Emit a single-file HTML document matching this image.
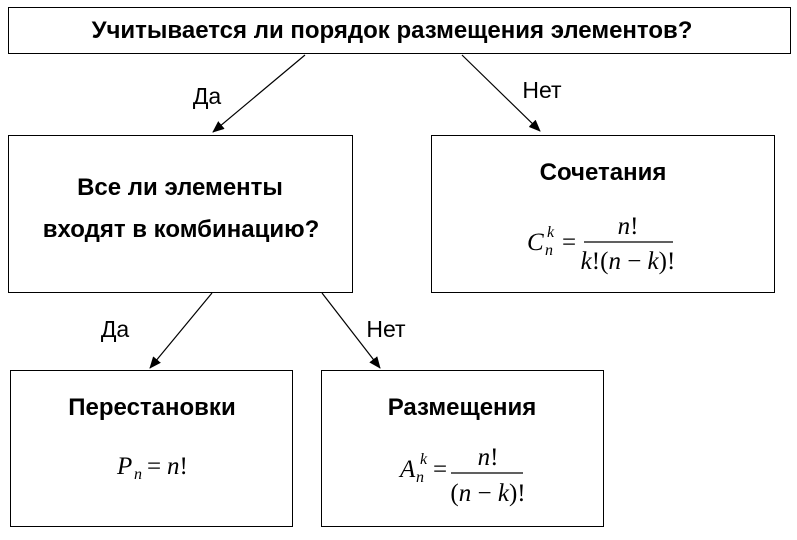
<!DOCTYPE html>
<html><head><meta charset="utf-8"><style>
html,body{margin:0;padding:0;background:#fff;}
svg{display:block;}
.t{font-family:"Liberation Sans",Arial,sans-serif;font-weight:bold;font-size:24px;fill:#000;}
.l{font-family:"Liberation Sans",Arial,sans-serif;font-size:23px;fill:#000;}
.m{font-family:"Liberation Serif","Times New Roman",serif;font-style:italic;font-size:25px;fill:#000;}
.s{font-family:"Liberation Serif","Times New Roman",serif;font-style:italic;font-size:16px;fill:#000;}
.r{font-family:"Liberation Serif","Times New Roman",serif;font-style:normal;font-size:25px;fill:#000;}
</style></head><body>
<svg width="797" height="540" viewBox="0 0 797 540" xmlns="http://www.w3.org/2000/svg">
<defs><marker id="a" markerWidth="12" markerHeight="10" refX="11" refY="5" orient="auto" markerUnits="userSpaceOnUse"><path d="M0,0 L12,5 L0,10 Z" fill="#000"/></marker></defs>
<g fill="#fff" stroke="#000" stroke-width="1">
<rect x="8.5" y="7.5" width="782" height="46"/>
<rect x="8.5" y="135.5" width="344" height="157"/>
<rect x="431.5" y="135.5" width="343" height="157"/>
<rect x="10.5" y="370.5" width="282" height="156"/>
<rect x="321.5" y="370.5" width="282" height="156"/>
</g>
<g stroke="#000" stroke-width="1.2" marker-end="url(#a)">
<line x1="305" y1="55" x2="213" y2="132"/>
<line x1="462" y1="55" x2="540" y2="131"/>
<line x1="212" y1="293" x2="150" y2="368"/>
<line x1="322" y1="293" x2="380" y2="368"/>
</g>
<text class="t" x="392" y="38" text-anchor="middle">Учитывается ли порядок размещения элементов?</text>
<text class="l" x="207" y="104" text-anchor="middle">Да</text>
<text class="l" x="542" y="98" text-anchor="middle">Нет</text>
<text class="l" x="115" y="337" text-anchor="middle">Да</text>
<text class="l" x="386" y="337" text-anchor="middle">Нет</text>
<text class="t" x="180" y="195" text-anchor="middle">Все ли элементы</text>
<text class="t" x="181" y="237" text-anchor="middle">входят в комбинацию?</text>
<text class="t" x="603" y="180" text-anchor="middle">Сочетания</text>
<text class="t" x="152" y="415" text-anchor="middle">Перестановки</text>
<text class="t" x="462" y="415" text-anchor="middle">Размещения</text>
<!-- C formula -->
<text class="m" x="527" y="250">C</text>
<text class="s" x="545" y="255">n</text>
<text class="s" x="547" y="237">k</text>
<text class="r" x="562" y="250">=</text>
<line x1="584" y1="242" x2="673" y2="242" stroke="#000" stroke-width="1.2"/>
<text class="m" x="628" y="234" text-anchor="middle">n<tspan class="r">!</tspan></text>
<text class="m" x="628" y="269" text-anchor="middle">k<tspan class="r">!(</tspan>n<tspan class="r"> − </tspan>k<tspan class="r">)!</tspan></text>
<!-- P formula -->
<text class="m" x="117" y="474">P</text>
<text class="s" x="134" y="479">n</text>
<text class="r" x="147" y="474">=</text>
<text class="m" x="167" y="474">n<tspan class="r">!</tspan></text>
<!-- A formula -->
<text class="m" x="400" y="477">A</text>
<text class="s" x="416" y="482">n</text>
<text class="s" x="420" y="464">k</text>
<text class="r" x="433" y="477">=</text>
<line x1="451" y1="473" x2="523" y2="473" stroke="#000" stroke-width="1.2"/>
<text class="m" x="488" y="465" text-anchor="middle">n<tspan class="r">!</tspan></text>
<text class="m" x="488" y="501" text-anchor="middle"><tspan class="r">(</tspan>n<tspan class="r"> − </tspan>k<tspan class="r">)!</tspan></text>
</svg>
</body></html>
